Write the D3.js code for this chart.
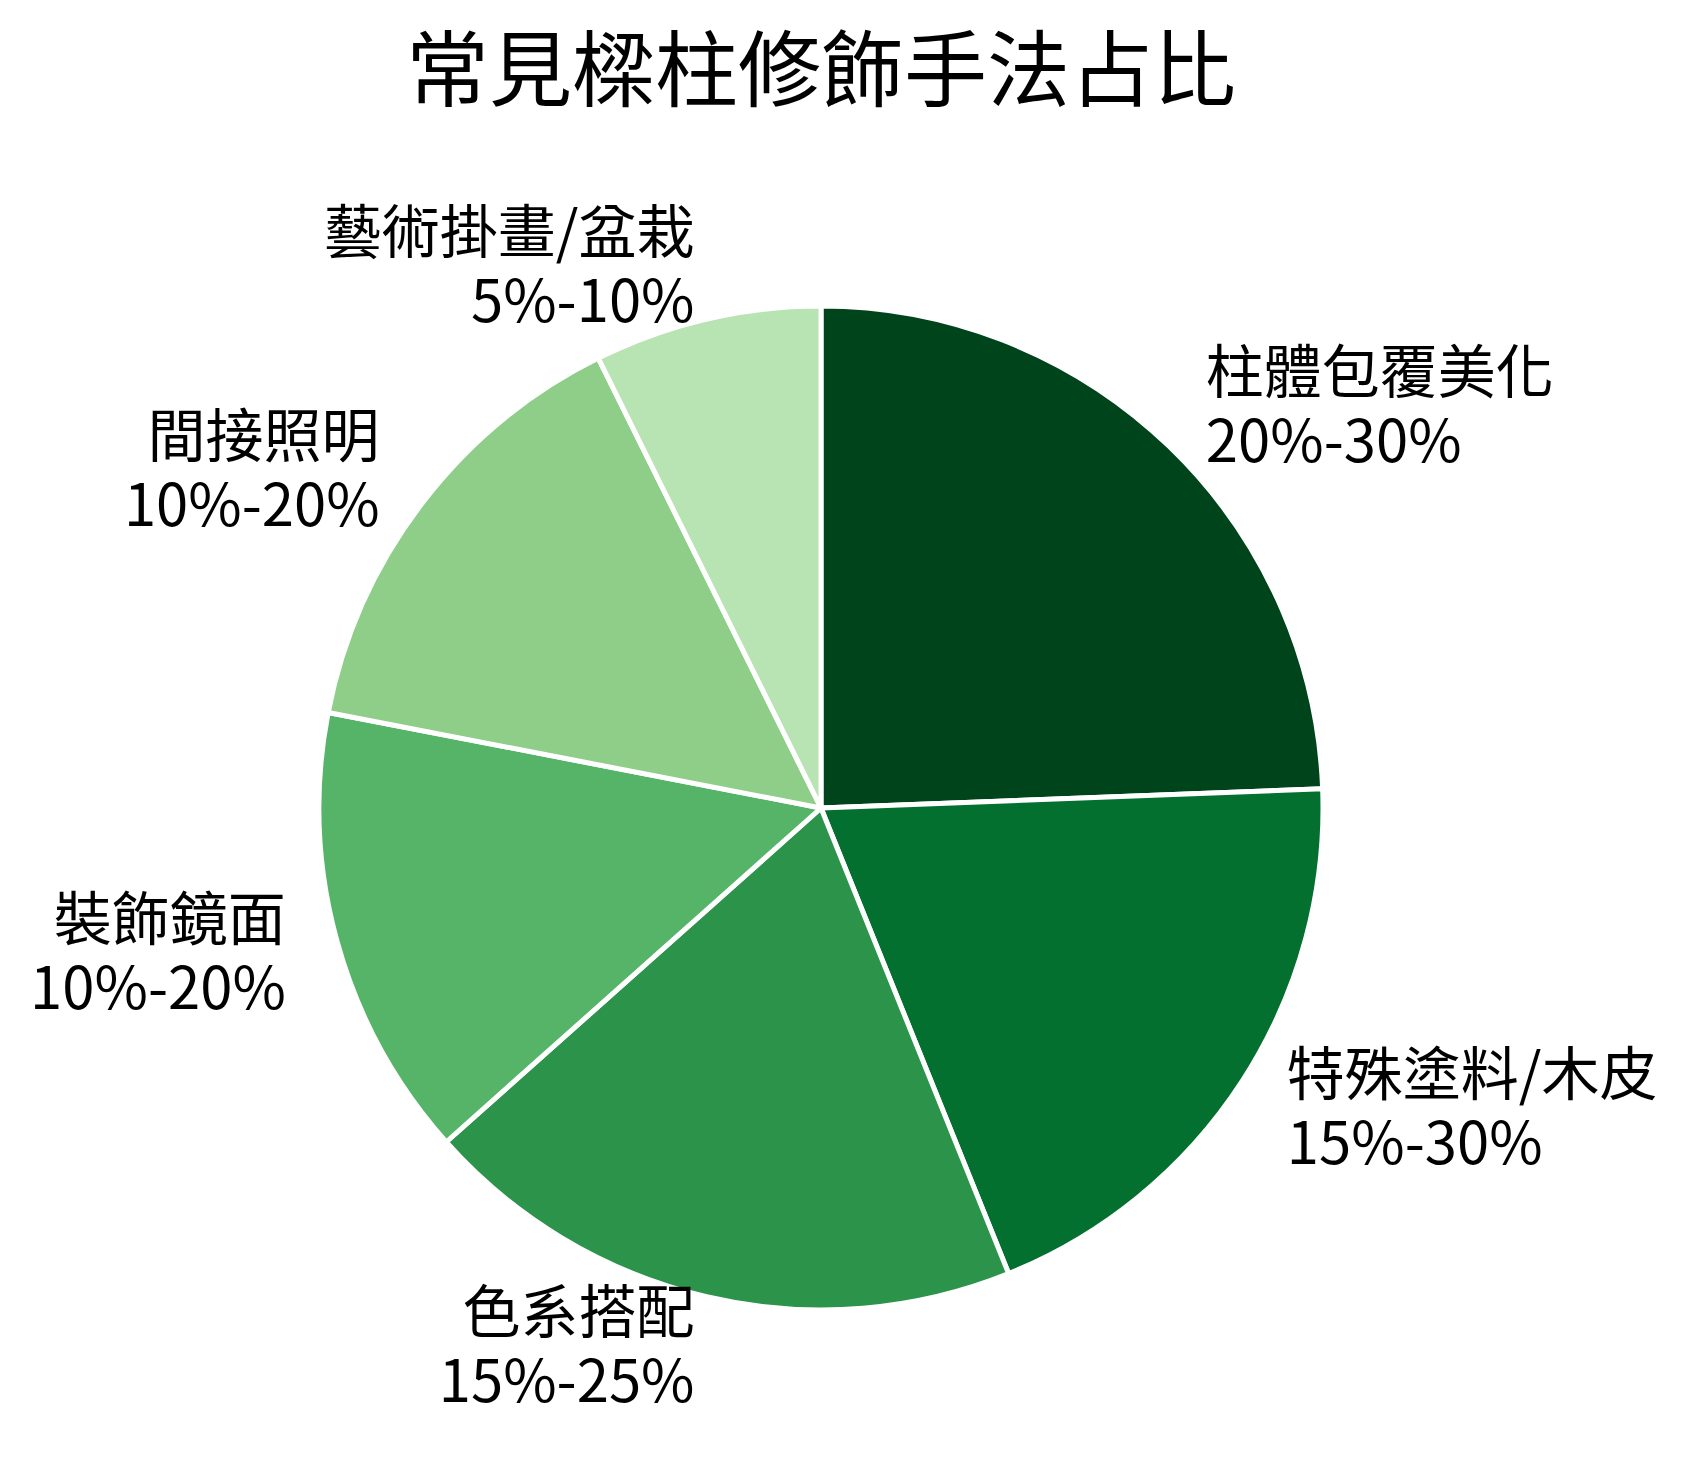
<!DOCTYPE html>
<html>
<head>
<meta charset="utf-8">
<script src="https://cdn.jsdelivr.net/npm/d3@7"></script>
<style>
  body { margin: 0; background: #fff; }
  text { font-family: "Noto Sans CJK TC", "Noto Sans CJK SC", sans-serif; fill: #000; }
</style>
</head>
<body>
<div id="chart"></div>
<script>
// data
const categories = ["柱體包覆美化", "特殊塗料/木皮", "色系搭配", "裝飾鏡面", "間接照明", "藝術掛畫/盆栽"];
const rangeLabels = ["20%-30%", "15%-30%", "15%-25%", "10%-20%", "10%-20%", "5%-10%"];
const shares = [25, 20, 20, 15, 15, 7.5];   // midpoints of the ranges
const title = "常見樑柱修飾手法占比";

const width = 1688,
    height = 1468;

const cx = 821, cy = 808;
const radius = 502;

const svg = d3.select("#chart")
  .append("svg")
    .attr("width", width)
    .attr("height", height);

svg.append("rect")
    .attr("width", width)
    .attr("height", height)
    .attr("fill", "#fff");

// title
svg.append("text")
    .attr("x", cx)
    .attr("y", 100)
    .attr("text-anchor", "middle")
    .style("font-size", "83px")
    .text(title);

const color = d3.scaleOrdinal()
  .domain(categories)
  .range(["#00441b", "#04702f", "#2c934b", "#55b467", "#8ece88", "#b8e3b2"]);

const data = categories.map((c, i) => ({ name: c, range: rangeLabels[i], value: shares[i] }));

const pie = d3.pie()
  .sort(null)
  .value(d => d.value);

const data_ready = pie(data);

const g = svg.append("g")
    .attr("transform", `translate(${cx},${cy})`);

const arc = d3.arc()
  .innerRadius(0)
  .outerRadius(radius);

g.selectAll("path")
  .data(data_ready)
  .join("path")
    .attr("d", arc)
    .attr("fill", d => color(d.data.name))
    .attr("stroke", "#fff")
    .attr("stroke-width", 5)
    .attr("stroke-linejoin", "round");

// labels sit a bit outside the rim
const labelR = 555;
const labelArc = d3.arc()
  .innerRadius(labelR)
  .outerRadius(labelR);

const labels = g.selectAll("text.lbl")
  .data(data_ready)
  .join("text")
    .attr("class", "lbl")
    .style("font-size", "58px")
    .attr("text-anchor", d => labelArc.centroid(d)[0] > 0 ? "start" : "end")
    .attr("transform", d => `translate(${labelArc.centroid(d)})`);

labels.append("tspan")
    .attr("x", 0)
    .attr("y", -15)
    .text(d => d.data.name);

labels.append("tspan")
    .attr("x", 0)
    .attr("y", 54)
    .text(d => d.data.range);
</script>
</body>
</html>
